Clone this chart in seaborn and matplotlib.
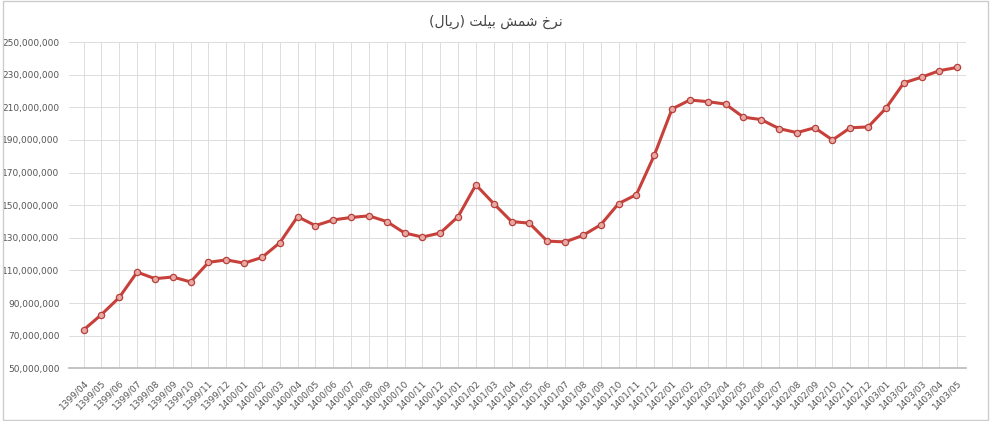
import matplotlib
matplotlib.use("Agg")
import matplotlib.pyplot as plt
import seaborn as sns
import pandas as pd
from matplotlib.ticker import FuncFormatter

labels = (["1399/%02d" % m for m in range(4, 13)] + ["1400/%02d" % m for m in range(1, 13)]
          + ["1401/%02d" % m for m in range(1, 13)] + ["1402/%02d" % m for m in range(1, 13)]
          + ["1403/%02d" % m for m in range(1, 6)])
values_m = [73.6, 83, 93.5, 109, 105, 106, 103, 115, 116.5,
            114.5, 118, 127, 143, 137.5, 141, 142.5, 143.5, 140, 133, 130.5, 133,
            143, 162.5, 151, 140, 139, 128, 127.5, 131.5, 138, 151, 156.5, 180.5,
            209, 214.5, 213.5, 212, 204, 202.5, 197, 194.5, 197.5, 190, 197.5, 198,
            209.5, 225, 228.5, 232.5, 234.5]
yticks = list(range(50_000_000, 250_000_001, 20_000_000))
title = "(\uFEDD\uFE8E\uFEF3\uFEAD) \uFE96\uFEE0\uFEF4\uFE91 \uFEB6\uFEE4\uFEB7 \uFEA5\uFEAE\uFEE7"

df = pd.DataFrame({"x": range(len(labels)), "v": [v * 1e6 for v in values_m]})

sns.set_theme(style="whitegrid")
plt.rcParams['font.family'] = ['DejaVu Sans', 'Noto Sans']
fig, ax = plt.subplots(figsize=(9.91, 4.21), dpi=100)
fig.subplots_adjust(left=0.07, right=0.975, top=0.9, bottom=0.125)
sns.lineplot(data=df, x="x", y="v", ax=ax, color="#c8403a", linewidth=2.2,
             marker="o", markersize=4.5, markerfacecolor="#e8a9a5",
             markeredgecolor="#b8403a", markeredgewidth=0.9)
ax.set_xlim(-0.8, len(labels) - 0.5)
ax.set_ylim(50e6, 250e6)
ax.set_yticks(yticks)
ax.yaxis.set_major_formatter(FuncFormatter(lambda v, p: f"{int(v):,}"))
ax.set_xticks(range(len(labels)))
ax.set_xticklabels(labels, rotation=45, ha="right", rotation_mode="anchor", fontsize=6.5, color="#555555")
ax.tick_params(axis="y", labelsize=6.5, colors="#555555")
ax.tick_params(axis="both", pad=1)
ax.grid(True, color="#dddddd", linewidth=0.7)
for s in ax.spines.values():
    s.set_visible(False)
ax.spines["bottom"].set_visible(True)
ax.spines["bottom"].set_color("#bbbbbb")
ax.set_xlabel("")
ax.set_ylabel("")
fig.suptitle(title, fontsize=10, color="#444444", y=0.965)
fig.patches.append(plt.Rectangle((0.003, 0.003), 0.994, 0.994, transform=fig.transFigure,
                                 fill=False, edgecolor="#cccccc", linewidth=1))
fig.savefig("out.png", dpi=100)
